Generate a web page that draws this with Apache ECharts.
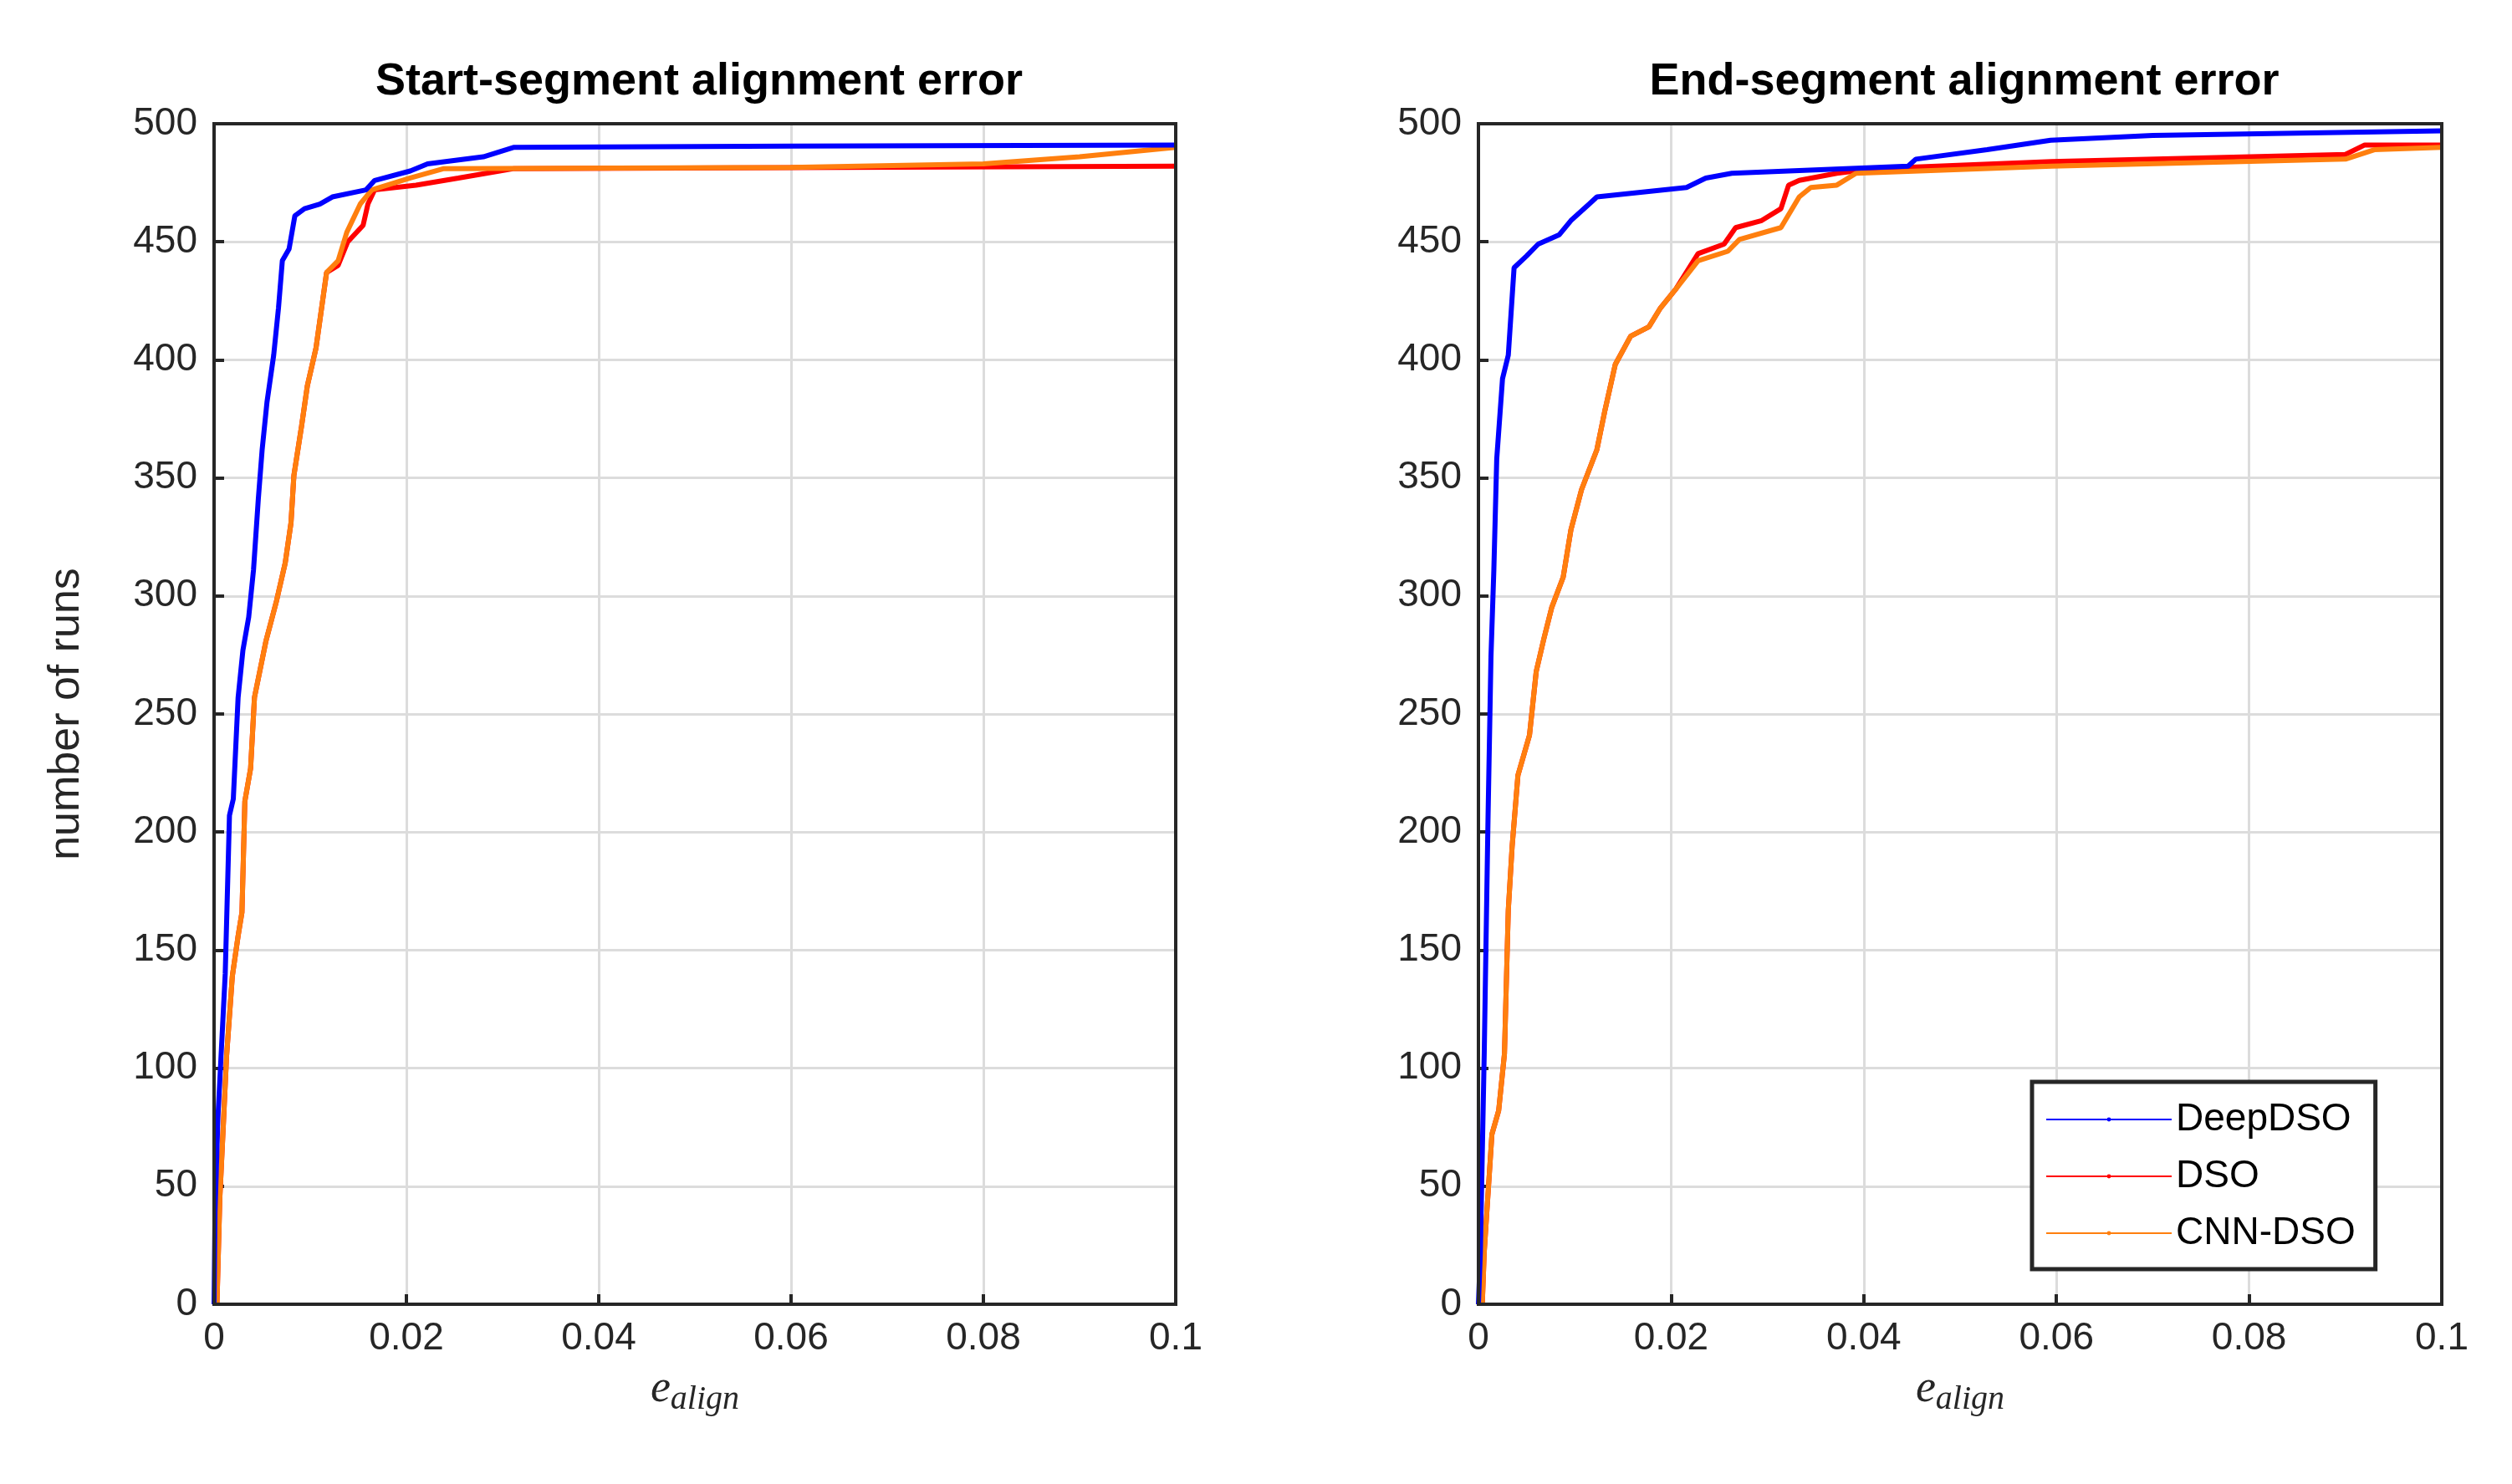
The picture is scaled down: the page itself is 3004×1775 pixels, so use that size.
<!DOCTYPE html>
<html><head><meta charset="utf-8">
<script src="https://cdn.jsdelivr.net/npm/echarts@6/dist/echarts.min.js"></script>
<style>html,body{margin:0;background:#fff}#c{width:3004px;height:1775px}</style>
</head><body><div id="c"></div>
<script>
const seriesNames = ['DeepDSO', 'DSO', 'CNN-DSO'];
const colors = ['#0000ff', '#ff0000', '#ff7f0e'];
const xTicks = [0, 0.02, 0.04, 0.06, 0.08, 0.1];
const yTicks = [0, 50, 100, 150, 200, 250, 300, 350, 400, 450, 500];

const startDeep = [[0,0],[0.0001,39],[0.0004,79],[0.0007,103],[0.00116,140],[0.0016,207],[0.002,214],[0.0025,257],[0.003,277],[0.0036,291],[0.0041,311],[0.0046,341],[0.005,362],[0.0055,382],[0.0062,402],[0.0067,422],[0.0071,442],[0.0078,447],[0.0084,461],[0.0094,464],[0.011,466],[0.0123,469],[0.0158,472],[0.0167,476],[0.0204,480],[0.0222,483],[0.028,486],[0.0312,490],[0.06,490.5],[0.1,491]];
const startCnn = [[0.0003,0],[0.0006,45],[0.001,79],[0.0013,105],[0.0019,139],[0.0025,156],[0.0029,166],[0.0032,213],[0.0038,227],[0.0042,257],[0.0054,281],[0.0065,298],[0.0074,314],[0.008,331],[0.0083,351],[0.0091,372],[0.0097,389],[0.0106,405],[0.0117,437],[0.0129,442],[0.0138,454],[0.0152,466],[0.0164,472],[0.0204,477],[0.0239,481],[0.06,481.5],[0.08,483],[0.09,486],[0.1,490]];
const startDso = [[0.0003,0],[0.0006,45],[0.001,79],[0.0013,105],[0.0019,139],[0.0025,156],[0.0029,166],[0.0032,213],[0.0038,227],[0.0042,257],[0.0054,281],[0.0065,298],[0.0074,314],[0.008,331],[0.0083,351],[0.0091,372],[0.0097,389],[0.0106,405],[0.0117,437],[0.0129,440],[0.0139,450],[0.0155,457],[0.016,466],[0.0167,472],[0.021,474],[0.0254,477],[0.0297,480],[0.0312,481],[0.1,482]];

const endDeep = [[0,0],[0.0002,22],[0.0006,106],[0.001,207],[0.0013,274],[0.0016,311],[0.0019,358],[0.0025,392],[0.0031,402],[0.0037,439],[0.005,444],[0.0062,449],[0.0084,453],[0.0096,459],[0.0115,466],[0.0123,469],[0.0216,473],[0.0236,477],[0.0263,479],[0.0446,482],[0.0454,485],[0.0528,489],[0.0594,493],[0.07,495],[0.1,497]];
const endCnn = [[0.0004,0],[0.0006,22],[0.0014,72],[0.0021,82],[0.0027,106],[0.0031,167],[0.0035,194],[0.0041,224],[0.0053,241],[0.006,268],[0.0068,282],[0.0076,295],[0.0088,308],[0.0096,328],[0.0107,345],[0.0123,362],[0.0131,378],[0.0142,398],[0.0158,410],[0.0177,414],[0.0189,422],[0.0205,430],[0.0228,442],[0.0259,446],[0.0271,451],[0.0314,456],[0.0333,469],[0.0345,473],[0.0372,474],[0.0392,479],[0.0595,482],[0.09,485],[0.093,489],[0.1,490]];
const endDso = [[0.0004,0],[0.0006,22],[0.0014,72],[0.0021,82],[0.0027,106],[0.0031,167],[0.0035,194],[0.0041,224],[0.0053,241],[0.006,268],[0.0068,282],[0.0076,295],[0.0088,308],[0.0096,328],[0.0107,345],[0.0123,362],[0.0131,378],[0.0142,398],[0.0158,410],[0.0177,414],[0.0189,422],[0.0205,430],[0.0228,445],[0.0255,449],[0.0267,456],[0.0294,459],[0.0314,464],[0.0322,474],[0.0333,476],[0.0372,479],[0.0411,481],[0.0595,484],[0.09,487],[0.092,491],[0.1,491]];

const titles = ['Start-segment alignment error', 'End-segment alignment error'];
const font = 'Arial, "Liberation Sans", sans-serif';
const grids = [{left:256, top:148, width:1150, height:1412}, {left:1768, top:148, width:1152, height:1412}];

function xAxis(i){return {type:'value', gridIndex:i, min:0, max:0.1, interval:0.02,
  name:'{e|e}{s|align}', nameLocation:'middle', nameGap:70,
  nameTextStyle:{rich:{e:{fontFamily:'"Liberation Serif", serif', fontStyle:'italic', fontSize:54, color:'#262626'}, s:{fontFamily:'"Liberation Serif", serif', fontStyle:'italic', fontSize:40, color:'#262626', padding:[24,0,0,0]}}},
  axisLine:{show:true, lineStyle:{color:'#262626', width:4}}, axisTick:{inside:true, length:12, lineStyle:{color:'#262626', width:4}},
  axisLabel:{fontFamily:font, fontSize:46, color:'#262626', margin:18, formatter:v=>String(+v.toFixed(2))},
  splitLine:{show:true, lineStyle:{color:'#dcdcdc', width:3}}};}
function yAxis(i){return {type:'value', gridIndex:i, min:0, max:500, interval:50,
  name: i===0 ? 'number of runs' : '', nameLocation:'middle', nameGap:150,
  nameTextStyle:{fontFamily:font, fontSize:52, color:'#262626'},
  axisLine:{show:true, lineStyle:{color:'#262626', width:4}}, axisTick:{inside:true, length:12, lineStyle:{color:'#262626', width:4}},
  axisLabel:{fontFamily:font, fontSize:46, color:'#262626', margin:20},
  splitLine:{show:true, lineStyle:{color:'#dcdcdc', width:3}}};}

const datas = [[startDeep, startDso, startCnn], [endDeep, endDso, endCnn]];
const zs = [10, 8, 9];
const series = [];
datas.forEach((set, gi) => set.forEach((d, si) => series.push({
  type:'line', name:seriesNames[si], xAxisIndex:gi, yAxisIndex:gi, data:d,
  showSymbol:false, symbol:'none', z: zs[si],
  lineStyle:{color:colors[si], width:6}, itemStyle:{color:colors[si]}})));

const chart = echarts.init(document.getElementById('c'));
chart.setOption({
  backgroundColor:'#fff', animation:false,
  title: titles.map((t,i)=>({text:t, left: grids[i].left + grids[i].width/2, textAlign:'center', top:66,
    textStyle:{fontFamily:font, fontWeight:'bold', fontSize:54, color:'#000'}})),
  grid: grids.map(g=>Object.assign({show:true, borderColor:'#262626', borderWidth:4, backgroundColor:'transparent', z:20}, g)),
  xAxis:[xAxis(0), xAxis(1)], yAxis:[yAxis(0), yAxis(1)],
  legend:{data:seriesNames, orient:'vertical', left:2430, top:1294, width:444,
    itemWidth:150, itemHeight:6, itemGap:22, padding:[22,24,20,16],
    borderColor:'#262626', borderWidth:5, backgroundColor:'#fff',
    textStyle:{fontFamily:font, fontSize:46, color:'#000'}},
  series
});
</script></body></html>
